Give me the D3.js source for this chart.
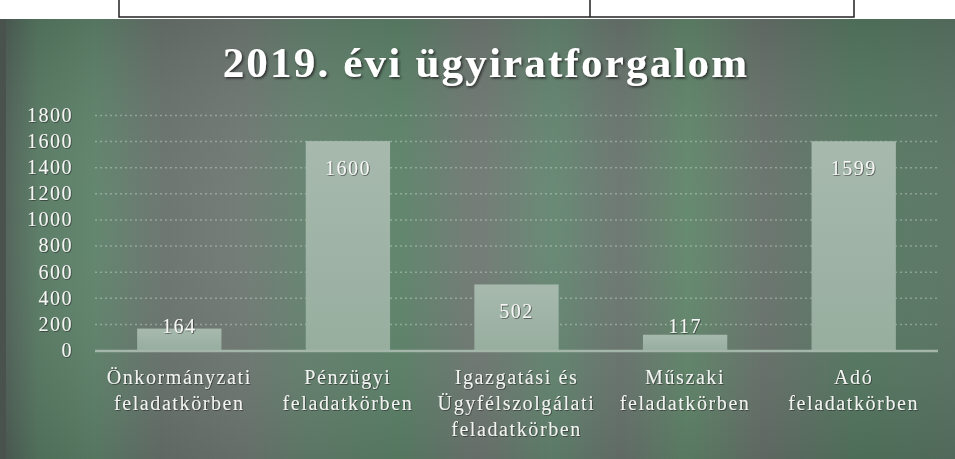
<!DOCTYPE html>
<html>
<head>
<meta charset="utf-8">
<script src="https://cdn.jsdelivr.net/npm/d3@7"></script>
<style>
  body { margin: 0; background: #fff; }
  svg { display: block; font-family: "Liberation Serif", "DejaVu Serif", serif; }
</style>
</head>
<body>
<div id="chart"></div>
<script>
// adatok
var categories = ['Önkormányzati feladatkörben', 'Pénzügyi feladatkörben',
  'Igazgatási és Ügyfélszolgálati feladatkörben', 'Műszaki feladatkörben', 'Adó feladatkörben'];
var categoryLines = [
  ['Önkormányzati', 'feladatkörben'],
  ['Pénzügyi', 'feladatkörben'],
  ['Igazgatási és', 'Ügyfélszolgálati', 'feladatkörben'],
  ['Műszaki', 'feladatkörben'],
  ['Adó', 'feladatkörben']
];
var values = [164, 1600, 502, 117, 1599];
var yTicks = [0, 200, 400, 600, 800, 1000, 1200, 1400, 1600, 1800];
var title = '2019. évi ügyiratforgalom';

var w = 955, h = 459;
var plotLeft = 95, plotRight = 938, plotTop = 115, plotBottom = 350;

var svg = d3.select('#chart').append('svg')
  .attr('width', w)
  .attr('height', h);

var defs = svg.append('defs');

// hatter szinatmenet (szkennelt zold-szurke)
var bg = defs.append('linearGradient').attr('id', 'bg')
  .attr('x1', '0').attr('x2', '1').attr('y1', '0').attr('y2', '0');
[[0, '#4f5d56'], [0.04, '#587a63'], [0.1, '#5f836b'], [0.17, '#69736e'], [0.25, '#707974'],
 [0.32, '#65826f'], [0.42, '#5d836a'], [0.5, '#717974'], [0.58, '#648771'], [0.65, '#6b7570'],
 [0.72, '#61876b'], [0.8, '#68726c'], [0.9, '#557961'], [1, '#5a7464']]
  .forEach(function(s) {
    bg.append('stop').attr('offset', s[0]).attr('stop-color', s[1]);
  });

var vshade = defs.append('linearGradient').attr('id', 'vshade')
  .attr('x1', '0').attr('x2', '0').attr('y1', '0').attr('y2', '1');
vshade.append('stop').attr('offset', 0).attr('stop-color', '#000').attr('stop-opacity', 0.1);
vshade.append('stop').attr('offset', 0.45).attr('stop-color', '#fff').attr('stop-opacity', 0.03);
vshade.append('stop').attr('offset', 1).attr('stop-color', '#000').attr('stop-opacity', 0.1);

var barGrad = defs.append('linearGradient').attr('id', 'bar')
  .attr('x1', '0').attr('x2', '0').attr('y1', '0').attr('y2', '1');
barGrad.append('stop').attr('offset', 0).attr('stop-color', '#a7b9ad');
barGrad.append('stop').attr('offset', 1).attr('stop-color', '#97ae9f');

var shadow = defs.append('filter').attr('id', 'shadow')
  .attr('x', '-10%').attr('y', '-20%').attr('width', '120%').attr('height', '140%');
shadow.append('feDropShadow').attr('dx', 1.5).attr('dy', 1.5).attr('stdDeviation', 0.8)
  .attr('flood-color', '#1a1f1c').attr('flood-opacity', 0.85);

var smallShadow = defs.append('filter').attr('id', 'smallShadow');
smallShadow.append('feDropShadow').attr('dx', 0.8).attr('dy', 0.8).attr('stdDeviation', 0.4)
  .attr('flood-color', '#222').attr('flood-opacity', 0.7);

// tablazat maradvanya felul
svg.append('rect').attr('x', 0).attr('y', 0).attr('width', w).attr('height', 20).attr('fill', '#fff');
svg.append('path')
  .attr('d', 'M119,0V17H854V0M590,0V17')
  .attr('fill', 'none').attr('stroke', '#222').attr('stroke-width', 1.5);

// hatter
svg.append('rect').attr('x', 0).attr('y', 19).attr('width', w).attr('height', h - 19).attr('fill', 'url(#bg)');
svg.append('rect').attr('x', 0).attr('y', 19).attr('width', w).attr('height', h - 19).attr('fill', 'url(#vshade)');
svg.append('rect').attr('x', 0).attr('y', 19).attr('width', 6).attr('height', h - 19).attr('fill', '#4a524e');

// skalak
var x = d3.scaleBand()
  .domain(categories)
  .range([plotLeft, plotRight])
  .paddingInner(0.5)
  .paddingOuter(0.25);

var y = d3.scaleLinear()
  .domain([0, 1800])
  .range([plotBottom, plotTop]);

// racsvonalak
var grid = svg.append('g')
  .attr('transform', 'translate(' + plotLeft + ',0)')
  .call(d3.axisLeft(y).tickValues(yTicks.slice(1)).tickSize(-(plotRight - plotLeft)).tickFormat(''));
grid.select('.domain').remove();
grid.selectAll('line')
  .attr('stroke', '#e8eee9')
  .attr('stroke-opacity', 0.35)
  .attr('stroke-width', 1.5)
  .attr('stroke-dasharray', '2,3');

// y tengely feliratai
var yAxis = svg.append('g')
  .attr('transform', 'translate(73,0)')
  .call(d3.axisLeft(y).tickValues(yTicks).tickSize(0).tickPadding(0).tickFormat(d3.format('d')));
yAxis.select('.domain').remove();
yAxis.selectAll('text')
  .attr('fill', '#f4f6f4')
  .attr('filter', 'url(#smallShadow)')
  .style('font-size', '20px')
  .style('letter-spacing', '1.5px')
  .style('font-family', '"Liberation Serif", serif');

// oszlopok
svg.append('g').selectAll('rect')
  .data(values)
  .enter()
  .append('rect')
  .attr('x', function(d, i) { return x(categories[i]); })
  .attr('y', function(d) { return y(d); })
  .attr('width', x.bandwidth())
  .attr('height', function(d) { return y(0) - y(d); })
  .attr('fill', 'url(#bar)');

// x tengely vonal
svg.append('line')
  .attr('x1', plotLeft).attr('x2', plotRight)
  .attr('y1', y(0) + 1).attr('y2', y(0) + 1)
  .attr('stroke', '#a3b6a9').attr('stroke-width', 2.5);

// ertek cimkek
svg.append('g').selectAll('text')
  .data(values)
  .enter()
  .append('text')
  .attr('x', function(d, i) { return x(categories[i]) + x.bandwidth() / 2; })
  .attr('y', function(d) { return Math.min(y(d) + 27, y(0) - 24); })
  .attr('dy', '0.35em')
  .attr('text-anchor', 'middle')
  .attr('fill', '#f6f7f6')
  .attr('filter', 'url(#smallShadow)')
  .style('font-size', '20px')
  .style('letter-spacing', '1.5px')
  .text(function(d) { return d; });

// kategoria feliratok
var catLabels = svg.append('g').selectAll('text')
  .data(categoryLines)
  .enter()
  .append('text')
  .attr('text-anchor', 'middle')
  .attr('fill', '#f2f4f2')
  .attr('filter', 'url(#smallShadow)')
  .style('font-size', '20px')
  .style('letter-spacing', '1.6px');

catLabels.selectAll('tspan')
  .data(function(d, i) { return d.map(function(t) { return { t: t, i: i }; }); })
  .enter()
  .append('tspan')
  .attr('x', function(d) { return x(categories[d.i]) + x.bandwidth() / 2; })
  .attr('y', function(d, j) { return 384 + j * 26; })
  .text(function(d) { return d.t; });

// cim
svg.append('text')
  .attr('x', 486)
  .attr('y', 77)
  .attr('text-anchor', 'middle')
  .attr('fill', '#ffffff')
  .attr('filter', 'url(#shadow)')
  .style('font-size', '43px')
  .style('font-weight', 'bold')
  .style('letter-spacing', '2.2px')
  .text(title);
</script>
</body>
</html>
